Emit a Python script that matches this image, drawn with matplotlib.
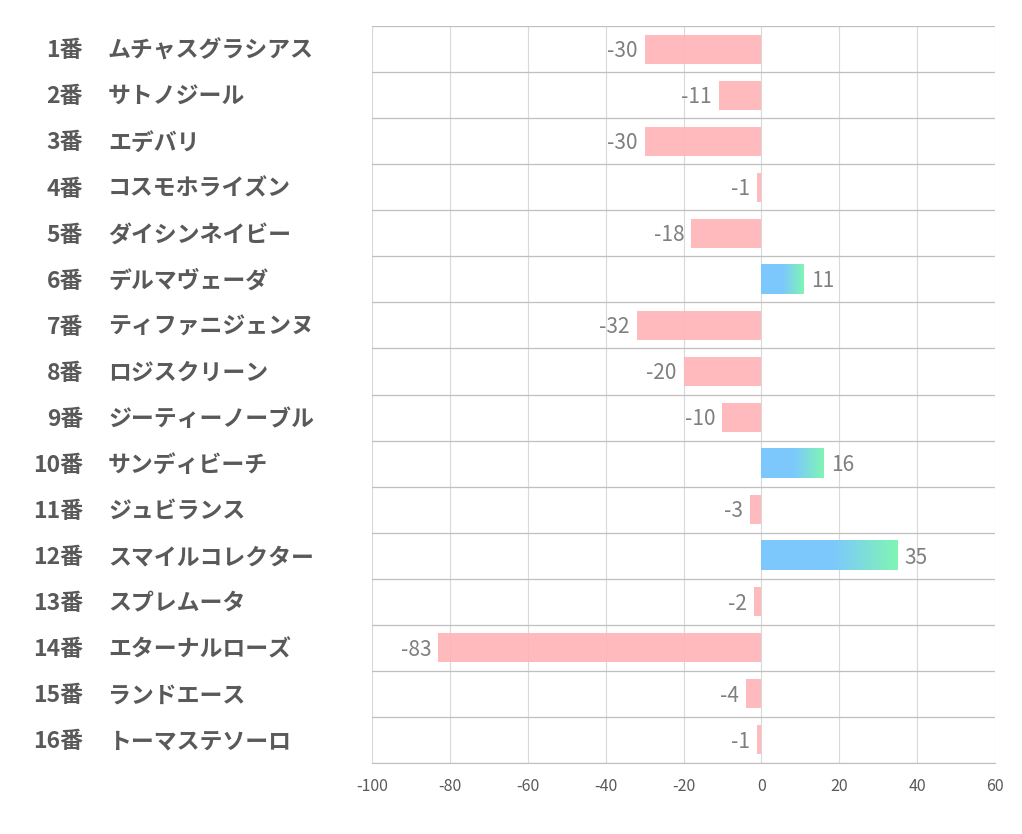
import numpy as np
import matplotlib.pyplot as plt
import matplotlib.transforms as mtransforms
from matplotlib.colors import LinearSegmentedColormap

plt.rcParams['font.family'] = ['Noto Sans CJK JP', 'DejaVu Sans']

# データ
numbers = ['1番', '2番', '3番', '4番', '5番', '6番', '7番', '8番',
           '9番', '10番', '11番', '12番', '13番', '14番', '15番', '16番']
names = ['ムチャスグラシアス', 'サトノジール', 'エデバリ', 'コスモホライズン',
         'ダイシンネイビー', 'デルマヴェーダ', 'ティファニジェンヌ', 'ロジスクリーン',
         'ジーティーノーブル', 'サンディビーチ', 'ジュビランス', 'スマイルコレクター',
         'スプレムータ', 'エターナルローズ', 'ランドエース', 'トーマステソーロ']
values = [-30, -11, -30, -1, -18, 11, -32, -20, -10, 16, -3, 35, -2, -83, -4, -1]
xticks = [-100, -80, -60, -40, -20, 0, 20, 40, 60]

fig = plt.figure(figsize=(10.22, 8.34), dpi=100)
ax = fig.add_axes([372/1022, 1-763/834, (995-372)/1022, (763-26)/834])

h = 0.63
grad_cmap = LinearSegmentedColormap.from_list(
    'g', [(0, '#7cc8fd'), (0.52, '#7cc8fd'), (1, '#80f5b4')])
grad = np.linspace(0, 1, 256).reshape(1, -1)

for i, v in enumerate(values):
    if v < 0:
        ax.barh(i, v, height=h, color='#ffb3b6', alpha=0.9, zorder=3)
        ax.text(v - 1.8, i + 0.04, str(v), ha='right', va='center',
                fontsize=15, color='#7f7f7f', zorder=4)
    else:
        ax.imshow(grad, cmap=grad_cmap, aspect='auto',
                  extent=(0, v, i + h/2, i - h/2), zorder=3)
        ax.text(v + 1.8, i + 0.04, str(v), ha='left', va='center',
                fontsize=15, color='#7f7f7f', zorder=4)

ax.set_xlim(-100, 60)
ax.set_ylim(15.5, -0.5)
ax.set_xticks(xticks)
ax.set_xticklabels([str(t) for t in xticks], fontsize=11.5, color='#595959')
ax.set_yticks([])
ax.tick_params(axis='x', length=0, pad=11)

# グリッド
for t in xticks:
    ax.axvline(t, color='#d9d9d9', lw=0.8, zorder=1)
for k in range(17):
    ax.axhline(k - 0.5, color='#bfbfbf', lw=0.9, zorder=2)
for s in ['top', 'right', 'left']:
    ax.spines[s].set_visible(False)
ax.spines['bottom'].set_color('#bfbfbf')

# ラベル
tr = mtransforms.blended_transform_factory(fig.transFigure, ax.transData)
for i in range(len(names)):
    fig.text(83/1022, i + 0.04, numbers[i], transform=tr, ha='right', va='center',
             fontsize=16.5, fontweight='bold', color='#595959')
    fig.text(108/1022, i + 0.04, names[i], transform=tr, ha='left', va='center',
             fontsize=16.5, fontweight='bold', color='#595959')

plt.savefig('out.png', dpi=100)
